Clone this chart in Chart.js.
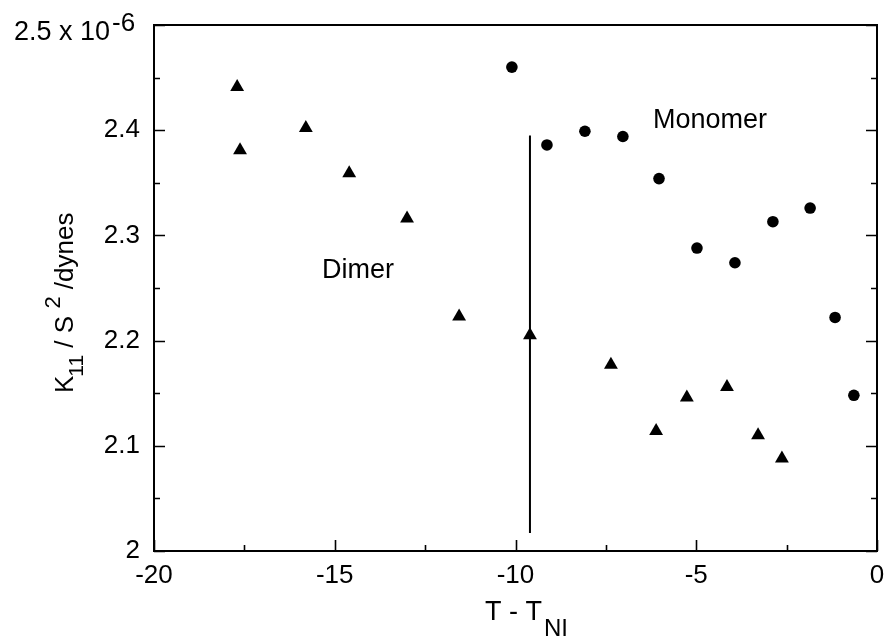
<!DOCTYPE html>
<html>
<head>
<meta charset="utf-8">
<script src="https://cdn.jsdelivr.net/npm/chart.js@4.4.0/dist/chart.umd.min.js"></script>
<style>
  html, body { margin: 0; padding: 0; background: #fff; }
  #wrap { width: 885px; height: 639px; position: relative; }
</style>
</head>
<body>
<div id="wrap"><canvas id="c" width="885" height="639"></canvas></div>
<script>
// ---- data (K11/S^2 in units of 1e-6 dynes) ----
const dimerX = [-17.70, -17.62, -15.80, -14.60, -13.00, -11.56, -9.60, -7.36, -6.11, -5.26, -4.15, -3.29, -2.63];
const dimerY = [2.441, 2.381, 2.402, 2.359, 2.316, 2.223, 2.205, 2.177, 2.114, 2.146, 2.156, 2.110, 2.088];
const monomerX = [-10.10, -9.13, -8.08, -7.03, -6.03, -4.98, -3.93, -2.88, -1.85, -1.16, -0.64];
const monomerY = [2.460, 2.386, 2.399, 2.394, 2.354, 2.288, 2.274, 2.313, 2.326, 2.222, 2.148];
const markerLineX = [-9.6, -9.6];
const markerLineY = [2.017, 2.395];
const xTicks = [-20, -15, -10, -5, 0];
const yTicks = [2, 2.1, 2.2, 2.3, 2.4, 2.5];
const seriesLabels = ['Dimer', 'Monomer'];

const toPts = (xs, ys) => xs.map((x, i) => ({ x: x, y: ys[i] }));
const FONT = '"Liberation Sans", Arial, Helvetica, sans-serif';

const framePlugin = {
  id: 'frame',
  afterDatasetsDraw(chart) {
    const ctx = chart.ctx;
    const xs = chart.scales.x, ys = chart.scales.y;
    const a = chart.chartArea;
    ctx.save();
    ctx.strokeStyle = '#000';
    ctx.lineWidth = 2;
    ctx.strokeRect(a.left, a.top, a.right - a.left, a.bottom - a.top);
    ctx.lineWidth = 1.6;
    for (let v = -20; v <= 0.001; v += 2.5) {
      const major = Math.abs(v % 5) < 1e-6;
      const L = major ? 11 : 6;
      const px = Math.round(xs.getPixelForValue(v)) + 0.5;
      ctx.beginPath();
      ctx.moveTo(px, a.bottom); ctx.lineTo(px, a.bottom - L);
      ctx.stroke();
    }
    for (let k = 0; k <= 10; k++) {
      const v = 2 + k * 0.05;
      const major = k % 2 === 0;
      const L = major ? 11 : 6;
      const py = Math.round(ys.getPixelForValue(v)) + 0.5;
      ctx.beginPath();
      ctx.moveTo(a.left, py); ctx.lineTo(a.left + L, py);
      ctx.moveTo(a.right, py); ctx.lineTo(a.right - L, py);
      ctx.stroke();
    }
    ctx.restore();
  },
  afterDraw(chart) {
    const ctx = chart.ctx;
    ctx.save();
    ctx.fillStyle = '#000';
    ctx.textBaseline = 'alphabetic';
    // top y tick label: 2.5 x 10^-6
    ctx.font = '27px ' + FONT;
    ctx.textAlign = 'right';
    ctx.fillText('2.5 x 10', 110, 40);
    ctx.textAlign = 'left';
    ctx.font = '26px ' + FONT;
    ctx.fillText('-6', 112, 31);

    // x-axis title: T - T_NI
    ctx.font = '27px ' + FONT;
    ctx.textAlign = 'left';
    const t1 = 'T - T';
    ctx.fillText(t1, 485, 620);
    const w1 = ctx.measureText(t1).width;
    ctx.font = '24px ' + FONT;
    ctx.fillText('NI', 485 + w1 + 2, 636);

    // y-axis title: K_11 / S^2 /dynes  (rotated)
    ctx.translate(73, 393);
    ctx.rotate(-Math.PI / 2);
    let u = 0;
    ctx.font = '26px ' + FONT;
    ctx.fillText('K', u, 0); u += ctx.measureText('K').width;
    ctx.font = '21px ' + FONT;
    ctx.fillText('11', u - 1, 10); u += ctx.measureText('11').width - 1;
    ctx.font = '26px ' + FONT;
    ctx.fillText(' / S', u, 0); u += ctx.measureText(' / S ').width;
    ctx.font = '22px ' + FONT;
    ctx.fillText('2', u, -13); u += ctx.measureText('2').width;
    ctx.font = '26px ' + FONT;
    ctx.fillText(' /dynes', u, 0);
    ctx.setTransform(1, 0, 0, 1, 0, 0);

    // annotations
    ctx.font = '27px ' + FONT;
    ctx.textAlign = 'left';
    ctx.fillText(seriesLabels[0], 322, 278);
    ctx.fillText(seriesLabels[1], 653, 128);
    ctx.restore();
  }
};

new Chart(document.getElementById('c'), {
  type: 'scatter',
  data: {
    datasets: [
      {
        label: 'marker',
        type: 'line',
        data: toPts(markerLineX, markerLineY),
        borderColor: '#000',
        borderWidth: 2,
        pointRadius: 0,
        fill: false
      },
      {
        label: seriesLabels[0],
        data: toPts(dimerX, dimerY),
        pointStyle: 'triangle',
        pointRadius: 8,
        backgroundColor: '#000',
        borderColor: '#000',
        borderWidth: 0
      },
      {
        label: seriesLabels[1],
        data: toPts(monomerX, monomerY),
        pointStyle: 'circle',
        pointRadius: 5.8,
        backgroundColor: '#000',
        borderColor: '#000',
        borderWidth: 0
      }
    ]
  },
  options: {
    responsive: false,
    animation: false,
    events: [],
    layout: { padding: { top: 25, right: 8, left: 0, bottom: 0 } },
    plugins: { legend: { display: false }, tooltip: { enabled: false }, title: { display: false } },
    scales: {
      x: {
        type: 'linear',
        min: -20, max: 0,
        afterFit(s) { s.height = 88; s.paddingLeft = 0; s.paddingRight = 0; },
        afterBuildTicks(s) { s.ticks = xTicks.map(v => ({ value: v })); },
        grid: { display: false, drawTicks: false },
        border: { display: false },
        ticks: {
          padding: 9,
          color: '#000',
          font: { family: FONT, size: 26 },
          maxRotation: 0,
          callback: (v) => String(v)
        }
      },
      y: {
        type: 'linear',
        min: 2, max: 2.5,
        afterFit(s) { s.width = 154; s.paddingTop = 0; s.paddingBottom = 0; },
        afterBuildTicks(s) { s.ticks = yTicks.map(v => ({ value: v })); },
        grid: { display: false, drawTicks: false },
        border: { display: false },
        ticks: {
          padding: 14,
          color: '#000',
          font: { family: FONT, size: 26 },
          callback: (v) => (Math.abs(v - 2.5) < 1e-9 ? '' : String(Math.round(v * 10) / 10))
        }
      }
    }
  },
  plugins: [framePlugin]
});
</script>
</body>
</html>
